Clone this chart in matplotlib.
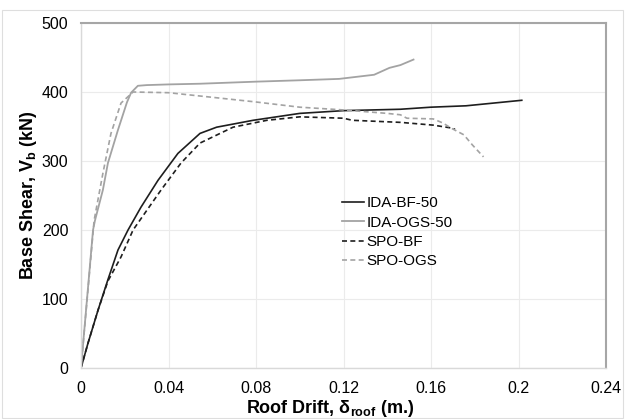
import matplotlib.pyplot as plt
from matplotlib.patches import Rectangle

plt.rcParams['font.family'] = ['Liberation Sans', 'DejaVu Sans']
plt.rcParams['mathtext.fontset'] = 'custom'
plt.rcParams['mathtext.rm'] = 'Liberation Sans'
plt.rcParams['mathtext.bf'] = 'Liberation Sans:bold'

# datos (deriva de techo en m, cortante basal en kN)
ida_bf_x = [0, 0.0032, 0.0078, 0.0123, 0.0169, 0.0215, 0.0274, 0.0352, 0.0443, 0.0544,
            0.062, 0.0787, 0.100, 0.120, 0.146, 0.160, 0.176, 0.2015]
ida_bf_y = [0, 36, 84, 128, 171, 200, 233, 272, 311, 340,
            349, 359, 369, 373, 375, 378, 380, 388]

ida_ogs_x = [0, 0.0055, 0.0064, 0.010, 0.0123, 0.0169, 0.021, 0.0229, 0.026, 0.030,
             0.040, 0.0544, 0.080, 0.100, 0.118, 0.134, 0.141, 0.146, 0.152]
ida_ogs_y = [0, 200, 214, 258, 297, 345, 385, 399, 409, 410,
             411, 412, 415, 417, 419, 425, 435, 439, 447]

spo_bf_x = [0, 0.0032, 0.0078, 0.0123, 0.0183, 0.0238, 0.0366, 0.0457, 0.0544, 0.0695,
            0.085, 0.100, 0.120, 0.124, 0.146, 0.161, 0.169, 0.171]
spo_bf_y = [0, 36, 84, 126, 161, 200, 258, 297, 326, 349,
            359, 364, 362, 359, 356, 352, 348, 346]

spo_ogs_x = [0, 0.006, 0.010, 0.0137, 0.0183, 0.0238, 0.040, 0.058, 0.0787, 0.100,
             0.120, 0.140, 0.146, 0.149, 0.161, 0.1655, 0.169, 0.175, 0.179, 0.184]
spo_ogs_y = [0, 214, 282, 340, 384, 400, 399, 393, 386, 378,
             374, 369, 367, 362, 361, 355, 348, 338, 323, 306]

x_ticks = [0, 0.04, 0.08, 0.12, 0.16, 0.2, 0.24]
x_tick_labels = ['0', '0.04', '0.08', '0.12', '0.16', '0.2', '0.24']
y_ticks = [0, 100, 200, 300, 400, 500]

fig = plt.figure(figsize=(6.25, 4.19), dpi=100)
ax = fig.add_axes([0.1296, 0.1217, 0.84, 0.8234])

negro = '#1e1e1e'
gris = '#a3a3a3'
ax.plot(ida_bf_x, ida_bf_y, color=negro, lw=1.2, label='IDA-BF-50')
ax.plot(ida_ogs_x, ida_ogs_y, color=gris, lw=1.3, label='IDA-OGS-50')
ax.plot(spo_bf_x, spo_bf_y, color=negro, lw=1.2, dashes=(3, 2), label='SPO-BF')
ax.plot(spo_ogs_x, spo_ogs_y, color=gris, lw=1.2, dashes=(3, 2), label='SPO-OGS')

ax.set_xlim(0, 0.24)
ax.set_ylim(0, 500)
ax.set_xticks(x_ticks)
ax.set_xticklabels(x_tick_labels)
ax.set_yticks(y_ticks)
ax.tick_params(length=0, labelsize=11.5, pad=9)
ax.grid(True, color='#ebebeb', lw=0.8)
ax.set_axisbelow(True)

for s in ['top', 'right']:
    ax.spines[s].set_color('#a6a6a6')
    ax.spines[s].set_linewidth(1.5)
for s in ['left', 'bottom']:
    ax.spines[s].set_color('#d9d9d9')
    ax.spines[s].set_linewidth(1.0)

ax.set_xlabel(r'Roof Drift, δ$_{\mathbf{roof}}$ (m.)', fontsize=13, fontweight='bold')
ax.xaxis.set_label_coords(0.474, -0.088)
ax.set_ylabel(r'Base Shear, V$_{\mathbf{b}}$ (kN)', fontsize=13, fontweight='bold', labelpad=2)

ax.legend(loc='upper left', bbox_to_anchor=(0.483, 0.52), frameon=False, fontsize=11,
          handlelength=1.4, handletextpad=0.2, labelspacing=0.35, borderpad=0)

# marco exterior del area del grafico
fig.patches.append(Rectangle((2 / 625, 1 / 419), 621 / 625, 408 / 419, transform=fig.transFigure,
                             fill=False, edgecolor='#dedede', lw=0.8))

plt.savefig('out.png')
